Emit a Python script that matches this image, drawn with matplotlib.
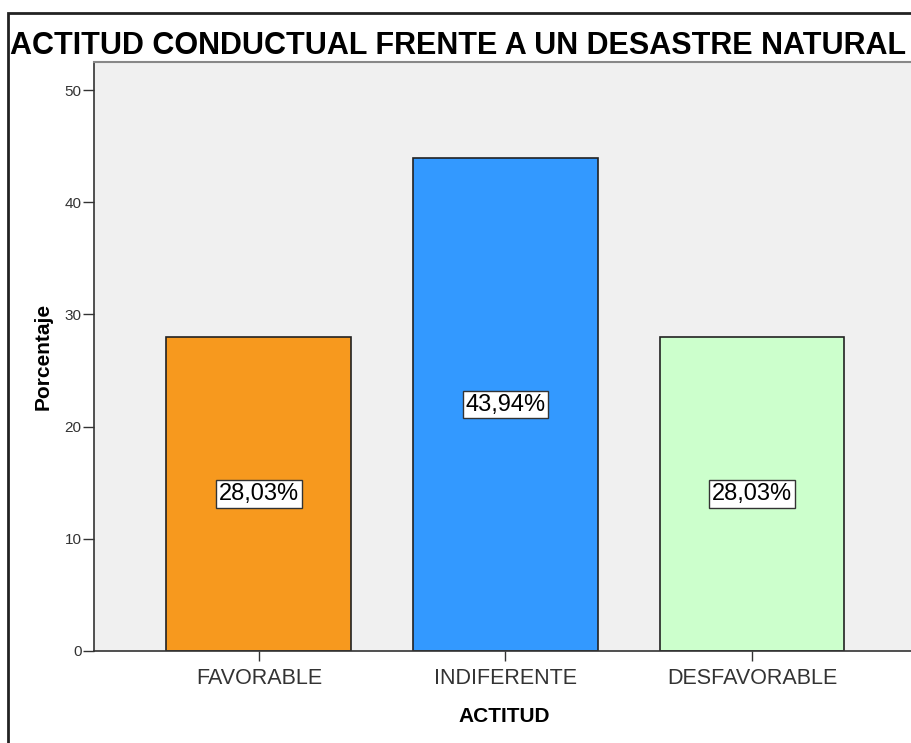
import matplotlib
matplotlib.use('Agg')
import matplotlib.pyplot as plt
from matplotlib.patches import Rectangle

plt.rcParams['font.family'] = ['Liberation Sans', 'DejaVu Sans']

# datos
categorias = ['FAVORABLE', 'INDIFERENTE', 'DESFAVORABLE']
porcentajes = [28.03, 43.94, 28.03]
etiquetas = ['28,03%', '43,94%', '28,03%']
colores = ['#F7991E', '#3399FF', '#CCFFCC']

W, H = 912, 743
fig = plt.figure(figsize=(W / 100, H / 100), dpi=100)

# marco exterior
fig.patches.append(Rectangle((8 / W, -0.1), 1.2, 1 - 13 / H + 0.1,
                             transform=fig.transFigure, fill=False,
                             edgecolor='#222222', linewidth=2))

# area del grafico
ax = fig.add_axes([94 / W, 1 - 651 / H, 1 - 94 / W, (651 - 62) / H])
ax.set_facecolor('#F0F0F0')
x = list(range(len(categorias)))
ax.bar(x, porcentajes, width=0.75, color=colores, edgecolor='#222222',
       linewidth=1.2, zorder=2)
for xi, v, t in zip(x, porcentajes, etiquetas):
    ax.text(xi, v / 2, t, ha='center', va='center', fontsize=17, zorder=3,
            bbox=dict(boxstyle='square,pad=0.12', facecolor='white',
                      edgecolor='#333333', linewidth=1))

ax.set_xlim(-0.669, 2.649)
ax.set_ylim(0, 52.5)
ax.set_yticks([0, 10, 20, 30, 40, 50])
ax.set_xticks(x)
ax.set_xticklabels(categorias, fontsize=15.5, color='#333333')
ax.tick_params(axis='y', labelsize=11, length=8, width=1, color='#333333',
               labelcolor='#333333', pad=1)
ax.tick_params(axis='x', length=7, width=1, color='#333333', pad=5)

for s in ['left', 'bottom']:
    ax.spines[s].set_color('#333333')
    ax.spines[s].set_linewidth(1.2)
ax.spines['top'].set_color('#888888')
ax.spines['top'].set_linewidth(1.5)
ax.spines['right'].set_visible(False)

ax.set_ylabel('Porcentaje', fontsize=15, fontweight='bold')
ax.yaxis.set_label_coords(-0.050, 0.5)
ax.set_xlabel('ACTITUD', fontsize=15, fontweight='bold')
ax.xaxis.set_label_coords(0.502, -0.095)

fig.text(10 / W, 1 - 46 / H, 'ACTITUD CONDUCTUAL FRENTE A UN DESASTRE NATURAL',
         fontsize=22, fontweight='bold', va='center', ha='left')

fig.savefig('out.png', dpi=100)
